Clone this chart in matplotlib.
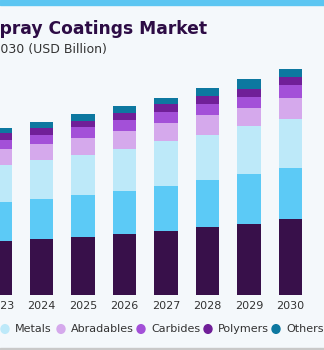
import matplotlib
matplotlib.use('Agg')
import matplotlib.pyplot as plt
import numpy as np
from matplotlib.patches import Rectangle

years = ['2023', '2024', '2025', '2026', '2027', '2028', '2029', '2030']

# USD Billion (first two series are cut off in the reference)
ceramics       = [2.70, 2.80, 2.92, 3.07, 3.22, 3.39, 3.55, 3.79]
intermetallics = [1.94, 2.00, 2.09, 2.15, 2.25, 2.37, 2.49, 2.57]
metals         = [1.87, 1.95, 1.99, 2.09, 2.22, 2.25, 2.40, 2.44]
abradables     = [0.79, 0.79, 0.85, 0.90, 0.90, 0.97, 0.93, 1.07]
carbides       = [0.43, 0.47, 0.53, 0.54, 0.55, 0.57, 0.55, 0.64]
polymers       = [0.37, 0.34, 0.30, 0.33, 0.40, 0.38, 0.40, 0.40]
others         = [0.25, 0.32, 0.39, 0.39, 0.33, 0.42, 0.49, 0.40]

series = [('Ceramics', ceramics, '#38104a'),
          ('Intermetallics', intermetallics, '#5ccaf6'),
          ('Metals', metals, '#bde9f9'),
          ('Abradables', abradables, '#d5a9ec'),
          ('Carbides', carbides, '#a350d8'),
          ('Polymers', polymers, '#701f98'),
          ('Others', others, '#0d78a0')]

W, H = 324, 350
fig = plt.figure(figsize=(W/100, H/100), dpi=100)
fig.patch.set_facecolor('#f4f8fb')

# top band and bottom rule
fig.patches.append(Rectangle((0, 1-5/H), 1, 5/H, transform=fig.transFigure,
                             color='#5cc6f2', zorder=0))
fig.patches.append(Rectangle((0, 0), 1, 2/H, transform=fig.transFigure,
                             color='#c9c9c9', zorder=0))

ax = fig.add_axes([0, (H-295)/H, 1, 235/H])
ax.set_facecolor('none')

x = np.arange(len(years))
bottom = np.zeros(len(years))
for name, vals, col in series:
    ax.bar(x, vals, 0.57, bottom=bottom, color=col, linewidth=0)
    bottom += np.array(vals)

ax.set_xlim(4/42, 328/42)
ax.set_ylim(0, 11.75)
for s in ax.spines.values():
    s.set_visible(False)
ax.set_yticks([])
ax.set_xticks(x)
ax.set_xticklabels(years, fontsize=8, color='#333333')
ax.tick_params(axis='x', length=0, pad=4)

# title / subtitle (cut on the left like the reference)
fig.text(207/W, 1-29/H, 'Thermal Spray Coatings Market', ha='right', va='center',
         fontsize=12.3, fontweight='bold', color='#2d0c45', family='DejaVu Sans')
fig.text(107/W, 1-49/H, 'by Material, 2018 - 2030 (USD Billion)', ha='right', va='center',
         fontsize=9, color='#333333')

# legend drawn by hand
leg_x = [-200, -95, 5, 61, 141, 208, 276]
leg_y = 1-329/H
for (name, vals, col), lx in zip(series, leg_x):
    fig.add_artist(plt.Circle((lx/W, leg_y), 4/W, color=col, transform=fig.transFigure))
    fig.text((lx+10)/W, leg_y, name, ha='left', va='center', fontsize=8, color='#333333')

fig.savefig('out.png', dpi=100)
